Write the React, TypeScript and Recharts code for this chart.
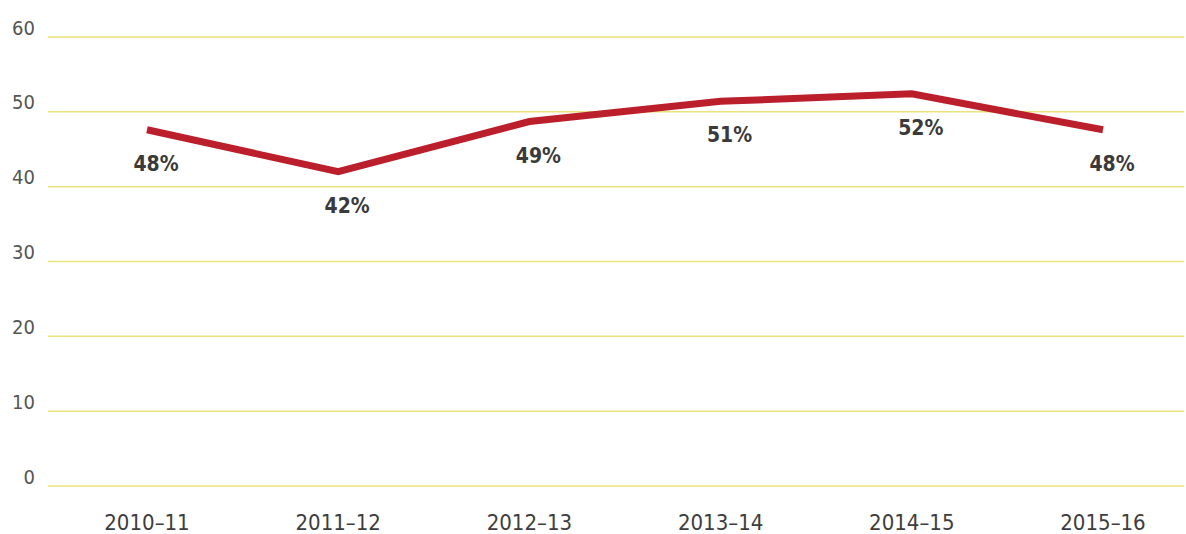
import { CartesianGrid, LabelList, Line, LineChart, XAxis, YAxis } from "recharts";

const years = ["2010–11", "2011–12", "2012–13", "2013–14", "2014–15", "2015–16"];
const share = [47.6, 42.0, 48.7, 51.4, 52.4, 47.6];
const yTicks = [0, 10, 20, 30, 40, 50, 60];

const data = years.map((year, i) => ({ year, share: share[i] }));

const font = "'DejaVu Sans Condensed', 'Liberation Sans Narrow', Roboto, sans-serif";

function YTick({ x, y, payload }: any) {
  return (
    <text x={x - 13} y={y - 2.5} textAnchor="end" fill="#555" fontSize={20} fontFamily={font}>
      {payload.value}
    </text>
  );
}

function XTick({ x, y, payload }: any) {
  return (
    <text x={x} y={y + 44} textAnchor="middle" fill="#3d3d3d" fontSize={22} fontFamily={font}>
      {payload.value}
    </text>
  );
}

function ValueLabel({ x, y, value }: any) {
  return (
    <text
      x={x + 9}
      y={y + 41}
      textAnchor="middle"
      fill="#3a3a3a"
      fontSize={21}
      fontWeight={600}
      fontFamily={font}
    >
      {`${Math.round(Number(value))}%`}
    </text>
  );
}

export default function App() {
  return (
    <div style={{ position: "absolute", left: 0, top: 0, background: "#fff" }}>
      <LineChart
        width={1186}
        height={534}
        data={data}
        margin={{ top: 37, right: 2, bottom: 0, left: 0 }}
      >
        <CartesianGrid vertical={false} stroke="#ebe27a" strokeWidth={1.5} />
        <XAxis
          dataKey="year"
          axisLine={false}
          tickLine={false}
          tickSize={0}
          tickMargin={0}
          height={48}
          padding={{ left: 99, right: 81 }}
          tick={<XTick />}
          interval={0}
        />
        <YAxis
          domain={[0, 60]}
          ticks={yTicks}
          axisLine={false}
          tickLine={false}
          tickSize={0}
          tickMargin={0}
          width={48}
          tick={<YTick />}
        />
        <Line
          type="linear"
          dataKey="share"
          stroke="#bb1f2b"
          strokeWidth={7}
          dot={false}
          activeDot={false}
          isAnimationActive={false}
        >
          <LabelList dataKey="share" content={<ValueLabel />} />
        </Line>
      </LineChart>
    </div>
  );
}
